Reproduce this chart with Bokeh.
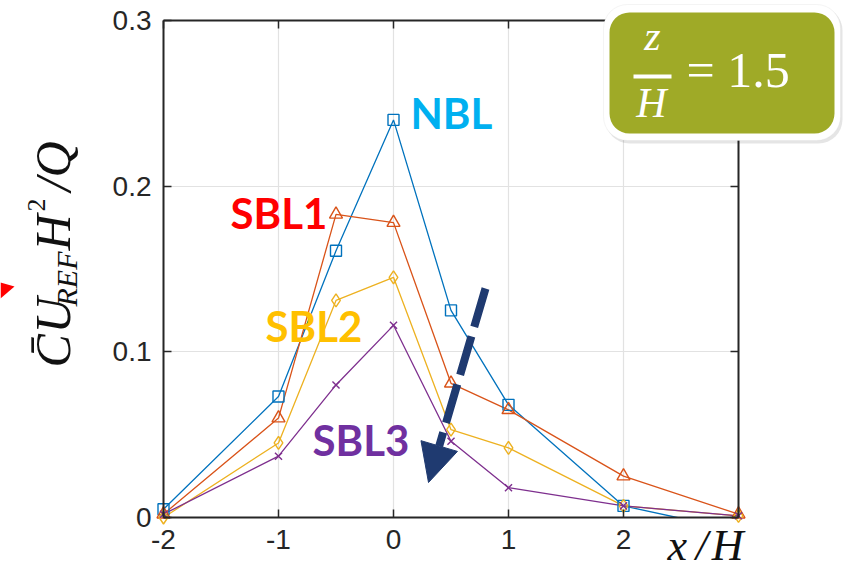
import math
from bokeh.plotting import figure
from bokeh.models import (Label, BoxAnnotation, PolyAnnotation, Arrow, NormalHead,
                          LinearAxis, FixedTicker, Range1d, Grid, ColumnDataSource,
                          CDSView, BooleanFilter)
from bokeh.embed import file_html
from bokeh.resources import INLINE

# Streamwise positions of the sampling points
x_over_h = [-2, -1, -0.5, 0, 0.5, 1, 2, 3]

# Normalised mean concentration at z/H = 1.5
nbl  = [0.005, 0.073, 0.161, 0.240, 0.125, 0.068, 0.007, -0.008]
sbl1 = [0.002, 0.060, 0.183, 0.178, 0.081, 0.065, 0.025, 0.002]
sbl2 = [0.000, 0.045, 0.131, 0.145, 0.053, 0.042, 0.007, 0.001]
sbl3 = [0.002, 0.037, 0.080, 0.116, 0.046, 0.018, 0.007, 0.001]

series_names = ["NBL", "SBL1", "SBL2", "SBL3"]
x_ticks = [-2, -1, 0, 1, 2, 3]
x_tick_labels = ["-2", "-1", "0", "1", "2", ""]
y_ticks = [0, 0.1, 0.2, 0.3]
y_tick_labels = ["0", "0.1", "0.2", "0.3"]

X0, X1 = -2, 3
Y0, Y1 = 0, 0.3
W, H = 845, 578
FL, FR, FT, FB = 163, 738, 20, 517   # axes box edges in canvas pixels

def dx(px):
    return X0 + (px - FL) * (X1 - X0) / (FR - FL)

def dy(py):
    return Y0 + (FB - py) * (Y1 - Y0) / (FB - FT)

# The drawing frame fills the whole canvas; the axes box sits inside it.
p = figure(width=W, height=H, output_backend="svg", toolbar_location=None,
           x_range=Range1d(dx(0), dx(W)), y_range=Range1d(dy(H), dy(0)),
           min_border=0, x_axis_location=None, y_axis_location=None)
p.background_fill_color = "white"
p.border_fill_color = "white"
p.outline_line_color = None
p.center = []

AX = "#262626"

def make_axis(loc, ticks, labels, bounds, show_labels):
    ax = LinearAxis(fixed_location=loc, bounds=bounds)
    ax.ticker = FixedTicker(ticks=ticks)
    ax.major_label_overrides = {t: l for t, l in zip(ticks, labels)}
    ax.axis_line_color = AX
    ax.axis_line_width = 2
    ax.major_tick_line_color = AX
    ax.major_tick_line_width = 1.5
    ax.major_tick_in = 8
    ax.major_tick_out = 0
    ax.minor_tick_line_color = None
    if show_labels:
        ax.major_label_text_font = "Liberation Sans"
        ax.major_label_text_font_size = "28px"
        ax.major_label_text_color = AX
        ax.major_label_standoff = 12
    else:
        ax.major_label_text_font_size = "0px"
        ax.major_label_standoff = 0
    return ax

for dim, ticks, b, cb in ((0, x_ticks, (X0, X1), (Y0, Y1)), (1, y_ticks, (Y0, Y1), (X0, X1))):
    p.add_layout(Grid(dimension=dim, ticker=FixedTicker(ticks=ticks), bounds=b,
                      cross_bounds=cb, grid_line_color="#E2E2E2",
                      grid_line_width=1.2), "center")

p.add_layout(make_axis(Y0, x_ticks, x_tick_labels, (X0, X1), True), "below")
p.add_layout(make_axis(X0, y_ticks, y_tick_labels, (Y0, Y1), True), "left")
p.add_layout(make_axis(Y1, x_ticks, [""] * len(x_ticks), (X0, X1), False), "above")
p.add_layout(make_axis(X1, y_ticks, [""] * len(y_ticks), (Y0, Y1), False), "right")

colors = ["#0072BD", "#D95319", "#EDB120", "#7E2F8E"]
markers = ["square", "triangle", "diamond", "x"]
sizes = [11, 13, 13, 10]
all_series = [nbl, sbl1, sbl2, sbl3]

for ys, c in zip(all_series, colors):
    p.line(x_over_h, ys, line_color=c, line_width=1.3)

# lines stop at the lower edge of the axes box
p.block(x=[X0 - 2], y=[dy(H) - 0.01], width=[X1 - X0 + 4], height=[Y0 - dy(H) + 0.01],
        fill_color="white", line_color=None)

# markers are only drawn for points inside the axes limits
for ys, c, m, s in zip(all_series, colors, markers, sizes):
    src = ColumnDataSource(data=dict(x=x_over_h, y=ys))
    inside = BooleanFilter(booleans=[Y0 <= v <= Y1 for v in ys])
    p.scatter("x", "y", source=src, view=CDSView(filter=inside), marker=m, size=s,
              fill_color=None, line_color=c, line_width=1.4)

# text baselines: the renderer places alphabetic text about 0.41 em low
def base(py, size):
    return py - 0.41 * size

# Series names
label_colors = ["#00B0F0", "#FF0000", "#FFC000", "#7030A0"]
label_pos = [(410, 130), (230, 230), (265, 343), (312, 457)]
for name, c, (px, py) in zip(series_names, label_colors, label_pos):
    p.add_layout(Label(x=dx(px), y=dy(base(py, 42)), text=name, text_color=c,
                       text_font="Lato", text_font_style="bold",
                       text_font_size="42px", text_align="left",
                       text_baseline="alphabetic"))

# Trend arrow
p.add_layout(Arrow(x_start=dx(485), y_start=dy(288), x_end=dx(428), y_end=dy(482),
                   line_color="#1F3A70", line_width=8, line_dash="40 10",
                   end=NormalHead(size=38, fill_color="#1F3A70", line_color="#1F3A70")))

# Red arrow tip at the left edge
p.add_layout(PolyAnnotation(xs=[dx(0), dx(14), dx(0)], ys=[dy(282), dy(286), dy(298)],
                            fill_color="#FF0000", fill_alpha=1, line_color=None))

# Axis titles
SERIF = "Liberation Serif"
def rot(text, baseline_px, start_py, size, style="italic"):
    p.add_layout(Label(x=dx(baseline_px - 0.41 * size), y=dy(start_py), text=text,
                       angle=math.pi / 2, text_font=SERIF, text_font_style=style,
                       text_font_size=f"{size}px", text_color="#111111",
                       text_align="left", text_baseline="alphabetic"))

rot("C\u0304", 73, 367, 50)
rot("U", 73, 333, 50)
rot("REF", 78, 306, 30)
rot("H", 73, 250, 50)
rot("2", 47, 211, 26, "normal")
rot("/Q", 73, 191, 50)

p.add_layout(Label(x=dx(667), y=dy(base(563, 44)), text="x\u2009/\u200aH",
                   text_font=SERIF, text_font_style="italic", text_font_size="44px",
                   text_color="#111111", text_align="left",
                   text_baseline="alphabetic"))

# Height badge
p.add_layout(BoxAnnotation(left=dx(605), right=dx(842), top=dy(6), bottom=dy(143),
                           fill_color="#000000", fill_alpha=0.10, line_color=None,
                           border_radius=24))
p.add_layout(BoxAnnotation(left=dx(603), right=dx(840), top=dy(4), bottom=dy(140),
                           fill_color="#FFFFFF", fill_alpha=1, line_color="#DADADA",
                           line_width=1, border_radius=24))
p.add_layout(BoxAnnotation(left=dx(609), right=dx(834), top=dy(12), bottom=dy(133),
                           fill_color="#9FAA27", fill_alpha=1, line_color=None,
                           border_radius=20))

WH = "#FFFFFF"
p.add_layout(Label(x=dx(652), y=dy(base(53, 42)), text="z", text_font=SERIF,
                   text_font_style="italic", text_font_size="42px",
                   text_color=WH, text_align="center", text_baseline="alphabetic"))
p.add_layout(BoxAnnotation(left=dx(633), right=dx(671), top=dy(74), bottom=dy(78),
                           fill_color=WH, fill_alpha=1, line_color=None))
p.add_layout(Label(x=dx(651), y=dy(base(120, 42)), text="H", text_font=SERIF,
                   text_font_style="italic", text_font_size="42px",
                   text_color=WH, text_align="center", text_baseline="alphabetic"))
p.add_layout(Label(x=dx(686), y=dy(base(90, 50)), text="= 1.5", text_font=SERIF,
                   text_font_size="50px", text_color=WH, text_align="left",
                   text_baseline="alphabetic"))

open("out.html", "w").write(file_html(p, INLINE))
